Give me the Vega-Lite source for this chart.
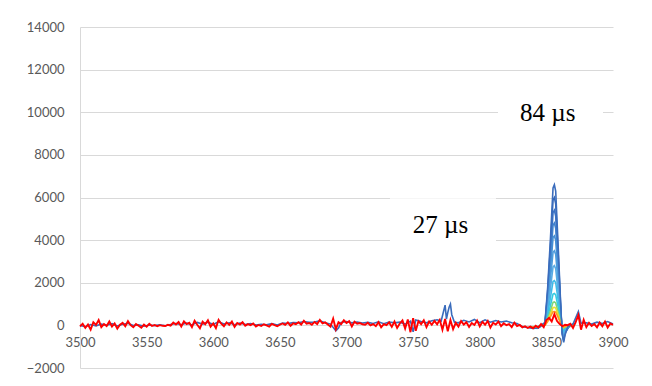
{
"$schema":"https://vega.github.io/schema/vega-lite/v6.json",
"width":533,"height":341,
"autosize":{"type":"none"},
"padding":{"left":80,"top":27,"right":39,"bottom":18},
"background":"white",
"config":{"view":{"stroke":null},"font":"Lato"},
"datasets":{
"boxes":[{"x":3813.7,"x2":3892.5,"y":8700,"y2":11140},{"x":3732.6,"x2":3812.2,"y":3540,"y2":5970}],
"labels":[{"x":3851,"y":9970,"t":"84 µs"},{"x":3770.5,"y":4710,"t":"27 µs"}],
"peaks":[
{"x":3838,"s2":-90,"s3":-70,"s4":-100,"s5":-60,"s6":-110,"s7":-80,"s8":-90,"s9":-50,"s10":-100,"s11":-70,"s12":-80},
{"x":3843,"s2":-110,"s3":-130,"s4":-80,"s5":-120,"s6":-90,"s7":-140,"s8":-70,"s9":-110,"s10":-90,"s11":-120,"s12":-100},
{"x":3847,"s2":20,"s3":10,"s4":40,"s5":0,"s6":30,"s7":-10,"s8":50,"s9":20,"s10":30,"s11":10,"s12":40},
{"x":3849,"s2":120,"s3":110,"s4":100,"s5":85,"s6":70,"s7":60,"s8":40,"s9":30,"s10":20,"s11":20,"s12":15},
{"x":3851,"s2":1620,"s3":1460,"s4":1300,"s5":1130,"s6":950,"s7":760,"s8":570,"s9":400,"s10":300,"s11":230,"s12":180},
{"x":3853,"s2":3660,"s3":3290,"s4":2930,"s5":2560,"s6":2140,"s7":1710,"s8":1280,"s9":920,"s10":670,"s11":520,"s12":400},
{"x":3855,"s2":5880,"s3":5290,"s4":4700,"s5":4120,"s6":3430,"s7":2740,"s8":2060,"s9":1470,"s10":1080,"s11":830,"s12":640},
{"x":3856,"s2":6000,"s3":5400,"s4":4800,"s5":4200,"s6":3500,"s7":2800,"s8":2100,"s9":1500,"s10":1100,"s11":850,"s12":650},
{"x":3857,"s2":5700,"s3":5130,"s4":4560,"s5":3990,"s6":3330,"s7":2660,"s8":2000,"s9":1430,"s10":1050,"s11":810,"s12":620},
{"x":3859,"s2":3180,"s3":2860,"s4":2540,"s5":2230,"s6":1860,"s7":1480,"s8":1110,"s9":800,"s10":580,"s11":450,"s12":350},
{"x":3861,"s2":540,"s3":490,"s4":430,"s5":380,"s6":320,"s7":250,"s8":190,"s9":140,"s10":100,"s11":80,"s12":60},
{"x":3862,"s2":-420,"s3":-380,"s4":-340,"s5":-290,"s6":-250,"s7":-200,"s8":-150,"s9":-100,"s10":-80,"s11":-60,"s12":-50},
{"x":3863,"s2":-720,"s3":-650,"s4":-580,"s5":-500,"s6":-420,"s7":-340,"s8":-250,"s9":-180,"s10":-130,"s11":-100,"s12":-80},
{"x":3864,"s2":-360,"s3":-320,"s4":-290,"s5":-250,"s6":-210,"s7":-170,"s8":-130,"s9":-90,"s10":-70,"s11":-50,"s12":-40},
{"x":3867,"s2":-60,"s3":-30,"s4":-50,"s5":-20,"s6":-70,"s7":-40,"s8":-10,"s9":-60,"s10":-30,"s11":-50,"s12":-20},
{"x":3871,"s2":40,"s3":70,"s4":20,"s5":90,"s6":50,"s7":30,"s8":80,"s9":40,"s10":60,"s11":20,"s12":70}
],
"blue":[
{"x":3500,"y":0},{"x":3504,"y":-60},{"x":3508,"y":40},{"x":3512,"y":-20},{"x":3516,"y":60},{"x":3520,"y":10},{"x":3524,"y":80},{"x":3528,"y":-30},{"x":3532,"y":50},{"x":3536,"y":100},{"x":3540,"y":-10},{"x":3544,"y":30},{"x":3548,"y":-40},{"x":3552,"y":20},{"x":3556,"y":-10},{"x":3560,"y":30},{"x":3564,"y":-20},{"x":3568,"y":40},{"x":3572,"y":90},{"x":3576,"y":30},{"x":3580,"y":110},{"x":3584,"y":20},{"x":3588,"y":140},{"x":3592,"y":60},{"x":3596,"y":150},{"x":3600,"y":40},{"x":3604,"y":170},{"x":3608,"y":60},{"x":3612,"y":120},{"x":3616,"y":30},{"x":3620,"y":110},{"x":3624,"y":40},{"x":3628,"y":90},{"x":3632,"y":20},{"x":3636,"y":50},{"x":3640,"y":30},{"x":3644,"y":80},{"x":3648,"y":20},{"x":3652,"y":110},{"x":3656,"y":90},{"x":3660,"y":130},{"x":3664,"y":120},{"x":3668,"y":180},{"x":3672,"y":140},{"x":3676,"y":160},{"x":3680,"y":210},{"x":3684,"y":120},{"x":3688,"y":60},{"x":3692,"y":-250},{"x":3694,"y":-120},{"x":3696,"y":140},{"x":3700,"y":180},{"x":3704,"y":120},{"x":3708,"y":160},{"x":3712,"y":110},{"x":3716,"y":140},{"x":3720,"y":90},{"x":3724,"y":170},{"x":3728,"y":80},{"x":3732,"y":160},{"x":3736,"y":120},{"x":3740,"y":150},{"x":3744,"y":60},{"x":3748,"y":200},{"x":3750,"y":-300},{"x":3752,"y":250},{"x":3756,"y":180},{"x":3760,"y":120},{"x":3764,"y":220},{"x":3768,"y":260},{"x":3771,"y":200},{"x":3773,"y":700},{"x":3774,"y":950},{"x":3775,"y":300},{"x":3776,"y":600},{"x":3777,"y":850},{"x":3778,"y":1000},{"x":3779,"y":500},{"x":3781,"y":150},{"x":3784,"y":120},{"x":3788,"y":240},{"x":3792,"y":160},{"x":3796,"y":280},{"x":3800,"y":120},{"x":3804,"y":260},{"x":3808,"y":150},{"x":3812,"y":230},{"x":3816,"y":160},{"x":3820,"y":200},{"x":3824,"y":120},{"x":3828,"y":90},{"x":3832,"y":-60},{"x":3836,"y":-100},{"x":3840,"y":-140},{"x":3844,"y":-120},{"x":3847,"y":30},{"x":3849,"y":150},{"x":3851,"y":1800},{"x":3853,"y":4000},{"x":3855,"y":6450},{"x":3856,"y":6600},{"x":3857,"y":6300},{"x":3859,"y":3500},{"x":3861,"y":600},{"x":3862,"y":-450},{"x":3863,"y":-800},{"x":3864,"y":-450},{"x":3866,"y":-80},{"x":3870,"y":60},{"x":3874,"y":650},{"x":3876,"y":100},{"x":3880,"y":120},{"x":3884,"y":60},{"x":3888,"y":150},{"x":3892,"y":90},{"x":3896,"y":180},{"x":3900,"y":60}
],
"red":[
{"x":3500,"y":-50},{"x":3502,"y":80},{"x":3504,"y":-120},{"x":3506,"y":40},{"x":3508,"y":-200},{"x":3510,"y":150},{"x":3512,"y":20},{"x":3514,"y":250},{"x":3516,"y":-80},{"x":3518,"y":60},{"x":3520,"y":-30},{"x":3522,"y":180},{"x":3524,"y":-60},{"x":3526,"y":90},{"x":3528,"y":-150},{"x":3530,"y":30},{"x":3532,"y":120},{"x":3534,"y":-40},{"x":3536,"y":200},{"x":3538,"y":10},{"x":3540,"y":-90},{"x":3542,"y":60},{"x":3544,"y":-20},{"x":3546,"y":-110},{"x":3548,"y":40},{"x":3550,"y":-60},{"x":3552,"y":70},{"x":3554,"y":-30},{"x":3556,"y":20},{"x":3558,"y":-40},{"x":3560,"y":10},{"x":3562,"y":-20},{"x":3564,"y":-30},{"x":3566,"y":30},{"x":3568,"y":-10},{"x":3570,"y":130},{"x":3572,"y":40},{"x":3574,"y":160},{"x":3576,"y":-50},{"x":3578,"y":190},{"x":3580,"y":60},{"x":3582,"y":120},{"x":3584,"y":-80},{"x":3586,"y":220},{"x":3588,"y":30},{"x":3590,"y":-140},{"x":3592,"y":170},{"x":3594,"y":50},{"x":3596,"y":240},{"x":3598,"y":-60},{"x":3600,"y":90},{"x":3602,"y":-130},{"x":3604,"y":260},{"x":3606,"y":80},{"x":3608,"y":-40},{"x":3610,"y":140},{"x":3612,"y":20},{"x":3614,"y":180},{"x":3616,"y":-70},{"x":3618,"y":110},{"x":3620,"y":40},{"x":3622,"y":150},{"x":3624,"y":-20},{"x":3626,"y":60},{"x":3628,"y":10},{"x":3630,"y":90},{"x":3632,"y":-50},{"x":3634,"y":20},{"x":3636,"y":-30},{"x":3638,"y":50},{"x":3640,"y":0},{"x":3642,"y":-60},{"x":3644,"y":70},{"x":3646,"y":10},{"x":3648,"y":-40},{"x":3650,"y":30},{"x":3652,"y":90},{"x":3654,"y":20},{"x":3656,"y":140},{"x":3658,"y":-20},{"x":3660,"y":100},{"x":3662,"y":60},{"x":3664,"y":150},{"x":3666,"y":40},{"x":3668,"y":220},{"x":3670,"y":80},{"x":3672,"y":110},{"x":3674,"y":30},{"x":3676,"y":160},{"x":3678,"y":60},{"x":3680,"y":260},{"x":3682,"y":90},{"x":3684,"y":140},{"x":3686,"y":40},{"x":3688,"y":-60},{"x":3690,"y":320},{"x":3692,"y":-180},{"x":3694,"y":150},{"x":3696,"y":60},{"x":3698,"y":240},{"x":3700,"y":110},{"x":3702,"y":200},{"x":3704,"y":-50},{"x":3706,"y":170},{"x":3708,"y":80},{"x":3710,"y":110},{"x":3712,"y":50},{"x":3714,"y":30},{"x":3716,"y":120},{"x":3718,"y":0},{"x":3720,"y":60},{"x":3722,"y":-40},{"x":3724,"y":150},{"x":3726,"y":-90},{"x":3728,"y":60},{"x":3730,"y":10},{"x":3732,"y":140},{"x":3734,"y":-70},{"x":3736,"y":180},{"x":3738,"y":-120},{"x":3740,"y":90},{"x":3742,"y":230},{"x":3744,"y":-150},{"x":3746,"y":280},{"x":3748,"y":-320},{"x":3750,"y":340},{"x":3752,"y":-250},{"x":3754,"y":200},{"x":3756,"y":60},{"x":3758,"y":240},{"x":3760,"y":-80},{"x":3762,"y":180},{"x":3764,"y":30},{"x":3766,"y":210},{"x":3768,"y":50},{"x":3770,"y":260},{"x":3772,"y":-200},{"x":3774,"y":300},{"x":3776,"y":-280},{"x":3778,"y":250},{"x":3780,"y":-180},{"x":3782,"y":120},{"x":3784,"y":-60},{"x":3786,"y":200},{"x":3788,"y":40},{"x":3790,"y":150},{"x":3792,"y":-70},{"x":3794,"y":110},{"x":3796,"y":20},{"x":3798,"y":230},{"x":3800,"y":-50},{"x":3802,"y":170},{"x":3804,"y":30},{"x":3806,"y":210},{"x":3808,"y":-100},{"x":3810,"y":120},{"x":3812,"y":40},{"x":3814,"y":180},{"x":3816,"y":-40},{"x":3818,"y":100},{"x":3820,"y":10},{"x":3822,"y":60},{"x":3824,"y":-80},{"x":3826,"y":130},{"x":3828,"y":-30},{"x":3830,"y":20},{"x":3832,"y":-90},{"x":3834,"y":-40},{"x":3836,"y":-120},{"x":3838,"y":-60},{"x":3840,"y":-140},{"x":3842,"y":-20},{"x":3844,"y":-100},{"x":3846,"y":60},{"x":3848,"y":-80},{"x":3850,"y":250},{"x":3852,"y":350},{"x":3854,"y":180},{"x":3856,"y":520},{"x":3858,"y":200},{"x":3860,"y":60},{"x":3862,"y":-40},{"x":3864,"y":30},{"x":3866,"y":10},{"x":3868,"y":80},{"x":3870,"y":-120},{"x":3872,"y":150},{"x":3874,"y":480},{"x":3876,"y":-200},{"x":3878,"y":260},{"x":3880,"y":-80},{"x":3882,"y":120},{"x":3884,"y":-30},{"x":3886,"y":60},{"x":3888,"y":-90},{"x":3890,"y":130},{"x":3892,"y":-40},{"x":3894,"y":180},{"x":3896,"y":-100},{"x":3898,"y":90},{"x":3900,"y":20}
]
},
"encoding":{
"x":{"field":"x","type":"quantitative","scale":{"domain":[3500,3900],"nice":false,"zero":false},
"axis":{"title":null,"values":[3500,3550,3600,3650,3700,3750,3800,3850,3900],"format":"d","grid":false,"ticks":false,"domain":false,"offset":-42.6,"labelPadding":11,"labelFontSize":13,"labelColor":"#595959","labelFont":"Lato","labelFlush":false}},
"y":{"field":"y","type":"quantitative","scale":{"domain":[-2000,14000],"nice":false},
"axis":{"title":null,"values":[-2000,0,2000,4000,6000,8000,10000,12000,14000],"grid":true,"gridColor":"#d9d9d9","ticks":false,"domain":true,"domainColor":"#d9d9d9","labelPadding":16,"labelFontSize":13,"labelColor":"#595959","labelFont":"Lato","format":"d"}}
},
"layer":[
{"data":{"name":"boxes"},"mark":{"type":"rect","fill":"white","stroke":null},
 "encoding":{"x2":{"field":"x2"},"y2":{"field":"y2"}}},
{"data":{"name":"peaks"},"transform":[{"fold":["s2","s3","s4","s5","s6","s7","s8","s9","s10","s11","s12"],"as":["s","y"]}],
 "mark":{"type":"line","strokeWidth":1.6},
 "encoding":{"color":{"field":"s","type":"nominal","legend":null,
   "scale":{"domain":["s2","s3","s4","s5","s6","s7","s8","s9","s10","s11","s12"],
   "range":["#3366b8","#3a72c4","#4080cc","#468ed4","#4f9cdc","#58abe4","#3fbbe8","#35cbe0","#7fd67a","#e8e030","#ff9a20"]}}}},
{"data":{"name":"blue"},"mark":{"type":"line","strokeWidth":1.6,"color":"#3a6cbc"},"encoding":{}},
{"data":{"name":"red"},"mark":{"type":"line","strokeWidth":1.9,"color":"#ff0000"},"encoding":{}},
{"data":{"name":"labels"},"mark":{"type":"text","font":"Liberation Serif","fontSize":25,"color":"#000000","align":"center","baseline":"middle"},
 "encoding":{"text":{"field":"t"}}}
]
}
